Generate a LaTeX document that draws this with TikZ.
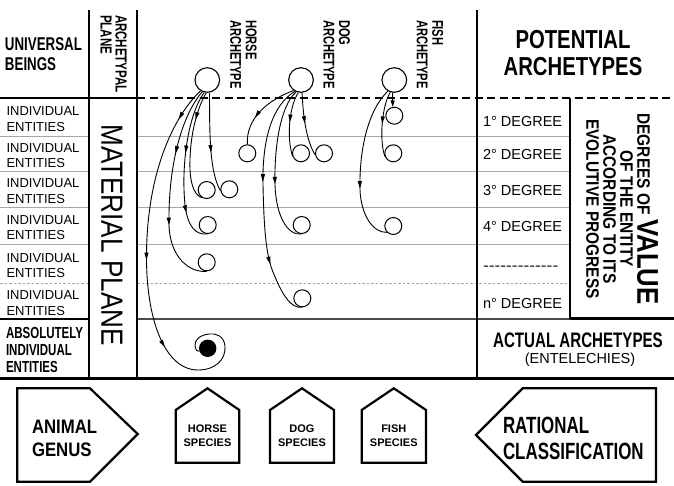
\documentclass[tikz,border=0pt]{standalone}
\usepackage{fontspec}
\setmainfont{Liberation Sans}
\newfontfamily\cbnfam{Liberation Sans}[FakeStretch=0.72]
\newfontfamily\cbmfam{Liberation Sans}[FakeStretch=0.78]
\newfontfamily\cbwfam{Liberation Sans}[FakeStretch=0.86]
\newfontfamily\crnfam{Liberation Sans}[FakeStretch=0.85]
\newcommand\BCn[2]{\cbnfam\bfseries\fontsize{#1}{#2}\selectfont}
\newcommand\BCm[2]{\cbmfam\bfseries\fontsize{#1}{#2}\selectfont}
\newcommand\BCw[2]{\cbwfam\bfseries\fontsize{#1}{#2}\selectfont}
\newcommand\RCn[2]{\crnfam\fontsize{#1}{#2}\selectfont}
\newcommand\RGf[2]{\normalfont\fontsize{#1}{#2}\selectfont}
\usetikzlibrary{arrows.meta,decorations.markings}
\tikzset{
  lbl/.style={inner sep=0pt, outer sep=0pt},
  arch/.style={circle, draw, line width=1.1pt, fill=white, minimum size=24.6pt, inner sep=0pt},
  ent/.style={circle, draw, line width=1pt, fill=white, minimum size=17pt, inner sep=0pt},
  dot/.style={circle, fill=black, minimum size=17.4pt, inner sep=0pt},
  flow/.style={line width=0.9pt},
  ma/.style={postaction={decorate, decoration={markings, mark=at position #1 with {\arrow{Triangle[length=7.5pt,width=4pt]}}}}},
  heavy/.style={line width=2.6pt},
  rowline/.style={line width=1pt, black!35},
  rowdash/.style={line width=1pt, black!35, dash pattern=on 2.5pt off 2pt},
  shapeline/.style={line width=2.2pt, line join=miter},
}
\begin{document}
\begin{tikzpicture}[x=1pt,y=-1pt]
\fill[white] (0,0) rectangle (674,485);
\useasboundingbox (0,0) rectangle (674,485);

% ---- grid lines ----
\foreach \yy in {136,171,207,244} {
  \draw[rowline] (0,\yy) -- (89,\yy);
  \draw[rowline] (137,\yy) -- (570,\yy);
}
\draw[rowdash] (0,283) -- (89,283);
\draw[rowdash] (137,283) -- (570,283);
\draw[line width=1.5pt, black!70] (137,319) -- (570,319);
\draw[heavy] (0,319) -- (89,319);
\draw[heavy] (570,318.5) -- (674,318.5);
\draw[heavy] (0,98) -- (137,98);
\draw[heavy, dash pattern=on 8pt off 4.5pt] (137,98) -- (674,98);
\draw[heavy] (89,10) -- (89,378.5);
\draw[heavy] (137,10) -- (137,378.5);
\draw[line width=2.2pt] (476.7,10) -- (476.7,378.5);
\draw[line width=2.4pt] (570,98) -- (570,318.5);
\draw[line width=3pt] (0,378.5) -- (674,378.5);

% ---- header texts ----
\node[lbl, anchor=north west, align=left, font={\BCn{18.5}{20}}] (ub) at (5,37.7) {UNIVERSAL\\BEINGS};
\node[lbl, rotate=-90, anchor=north west, align=left, font={\BCn{16}{15}}] (ap) at (126.7,15) {ARCHETYPAL\\PLANE};
\node[lbl, rotate=-90, anchor=north west, align=left, font={\BCn{15.5}{15.5}}] (hl) at (256.7,20) {HORSE\\ARCHETYPE};
\node[lbl, rotate=-90, anchor=north west, align=left, font={\BCn{15.5}{15.5}}] (dl) at (350,20) {DOG\\ARCHETYPE};
\node[lbl, rotate=-90, anchor=north west, align=left, font={\BCn{15.5}{15.5}}] (fl) at (443.3,20) {FISH\\ARCHETYPE};
\node[lbl, anchor=north, align=center, font={\BCm{26}{27}}] (pa) at (573,30) {POTENTIAL\\ARCHETYPES};

% ---- left column ----
\node[lbl, anchor=west, align=left, font={\RGf{13}{15.5}}] (ie1) at (6.5,119) {INDIVIDUAL\\ENTITIES};
\node[lbl, anchor=west, align=left, font={\RGf{13}{15.5}}] (ie2) at (6.5,155.5) {INDIVIDUAL\\ENTITIES};
\node[lbl, anchor=west, align=left, font={\RGf{13}{15.5}}] (ie3) at (6.5,191) {INDIVIDUAL\\ENTITIES};
\node[lbl, anchor=west, align=left, font={\RGf{13}{15.5}}] (ie4) at (6.5,227.5) {INDIVIDUAL\\ENTITIES};
\node[lbl, anchor=west, align=left, font={\RGf{13}{15.5}}] (ie5) at (6.5,265.5) {INDIVIDUAL\\ENTITIES};
\node[lbl, anchor=west, align=left, font={\RGf{13}{15.5}}] (ie6) at (6.5,303) {INDIVIDUAL\\ENTITIES};
\node[lbl, anchor=north west, align=left, font={\BCn{16}{17}}] (abs) at (6,327.7) {ABSOLUTELY\\INDIVIDUAL\\ENTITIES};
\node[lbl, rotate=-90, font={\RCn{30.7}{32}}] (mp) at (112,235) {MATERIAL PLANE};

% ---- degrees ----
\node[lbl, anchor=base west, font={\RGf{14.5}{16}}] (g1) at (483,126) {1° DEGREE};
\node[lbl, anchor=base west, font={\RGf{14.5}{16}}] (g2) at (483,159.3) {2° DEGREE};
\node[lbl, anchor=base west, font={\RGf{14.5}{16}}] (g3) at (483,195) {3° DEGREE};
\node[lbl, anchor=base west, font={\RGf{14.5}{16}}] (g4) at (483,231.7) {4° DEGREE};
\node[lbl, anchor=base west, font={\RGf{14.5}{16}}, xscale=1.2] (g5) at (483,270.6) {-{}-{}-{}-{}-{}-{}-{}-{}-{}-{}-{}-{}-};
\node[lbl, anchor=base west, font={\RGf{14.5}{16}}] (gn) at (483,308.3) {n° DEGREE};
\node[lbl, rotate=-90, align=center, font={\BCw{18}{17}}] (dv) at (622,209) {DEGREES OF {\fontsize{30}{17}\selectfont VALUE}\\OF THE ENTITY\\ACCORDING TO ITS\\EVOLUTIVE PROGRESS};
\node[lbl, anchor=north, font={\BCn{21}{22}}] (aa) at (578,333.3) {ACTUAL ARCHETYPES};
\node[lbl, anchor=base, font={\RGf{14.5}{16}}] (ent) at (580,363.3) {(ENTELECHIES)};

% ---- archetypes and entities ----
\node[arch] (H) at (207.3,80) {};
\node[arch] (D) at (301,80) {};
\node[arch] (F) at (394.3,80) {};
\node[ent] (h3a) at (206.7,190) {};
\node[ent] (h3b) at (229.3,189.3) {};
\node[ent] (h4) at (207.7,225) {};
\node[ent] (h5) at (206.7,262.3) {};
\node[dot] (hb) at (207.7,348.3) {};
\node[ent] (d2a) at (247.3,153.3) {};
\node[ent] (d2b) at (301,153.3) {};
\node[ent] (d2c) at (324,153.3) {};
\node[ent] (d4) at (301.7,225) {};
\node[ent] (d6) at (302.3,298.3) {};
\node[ent] (f1) at (394.3,115.7) {};
\node[ent] (f2) at (393.3,153.3) {};
\node[ent] (f4) at (393.3,226) {};

% ---- horse connectors ----
\draw[flow, ma=36pt, ma=182pt, ma=272pt] (H.238) .. controls (175,115) and (147,170) .. (146.5,255)
  .. controls (146,320) and (165,370) .. (198,370)
  .. controls (215,370) and (226,360) .. (225,346)
  .. controls (224,336) and (216,333) .. (209,334)
  .. controls (200,335) and (194,340) .. (195,346)
  .. controls (196,350) and (197,352) .. (hb.200);
\draw[flow, ma=68pt, ma=140pt] (H.247) .. controls (182,115) and (168,165) .. (169,225)
  .. controls (170,258) and (190,273) .. (h5.south);
\draw[flow, ma=64pt, ma=124pt] (H.256) .. controls (188,115) and (181,165) .. (185,205)
  .. controls (188,228) and (196,235) .. (h4.south);
\draw[flow, ma=29pt] (H.265) .. controls (196,110) and (189,140) .. (190,170)
  .. controls (191,188) and (196,196) .. (h3a.240);
\draw[flow, ma=60pt] (H.280) .. controls (209.5,140) and (210,172) .. (h3b.190);

% ---- dog connectors ----
\draw[flow, ma=48pt] (D.235) .. controls (268,100) and (246,118) .. (d2a.north);
\draw[flow, ma=31pt] (D.258) .. controls (290,105) and (286,135) .. (d2b.200);
\draw[flow, ma=31pt] (D.275) .. controls (303,115) and (306,140) .. (d2c.190);
\draw[flow, ma=97pt] (D.248) .. controls (281,105) and (274,145) .. (275,185)
  .. controls (276,215) and (287,236) .. (d4.south);
\draw[flow, ma=100pt, ma=183pt] (D.242) .. controls (272,105) and (262,140) .. (263,185)
  .. controls (264,230) and (266,255) .. (273,272)
  .. controls (281,292) and (290,309) .. (d6.south);

% ---- fish connectors ----
\draw[flow, -{Triangle[length=6.5pt,width=4pt]}] (F.262) -- (f1.100);
\draw[flow, ma=33pt] (F.252) .. controls (382,105) and (379,140) .. (f2.200);
\draw[flow, ma=104pt] (F.240) .. controls (368,110) and (359,150) .. (360,190)
  .. controls (361,215) and (373,233) .. (f4.225);

% ---- bottom shapes ----
\draw[shapeline] (17.3,388.3) -- (90,388.3) -- (137.7,434) -- (90,481.7) -- (17.3,481.7) -- cycle;
\draw[shapeline] (476,435) -- (522.7,388.3) -- (656,388.3) -- (656,481.7) -- (522.7,481.7) -- cycle;
\draw[shapeline] (175.7,462.7) -- (175.7,410) -- (207.5,388.3) -- (239.3,410) -- (239.3,462.7) -- cycle;
\draw[shapeline] (270,462.7) -- (270,410) -- (302,388.3) -- (334,410) -- (334,462.7) -- cycle;
\draw[shapeline] (361.7,462.7) -- (361.7,410) -- (393.8,388.3) -- (426,410) -- (426,462.7) -- cycle;
\node[lbl, anchor=north west, align=left, font={\BCw{19.5}{23}}] (ag) at (32,420) {ANIMAL\\GENUS};
\node[lbl, anchor=north west, align=left, font={\BCn{23.5}{26}}] (rc) at (503,416.7) {RATIONAL\\CLASSIFICATION};
\node[lbl, anchor=north, align=center, font={\RGf{11}{14}\bfseries}] (hs) at (207.5,425) {HORSE\\SPECIES};
\node[lbl, anchor=north, align=center, font={\RGf{11}{14}\bfseries}] (ds) at (302,425) {DOG\\SPECIES};
\node[lbl, anchor=north, align=center, font={\RGf{11}{14}\bfseries}] (fs) at (393.8,425) {FISH\\SPECIES};
\end{tikzpicture}
\end{document}
